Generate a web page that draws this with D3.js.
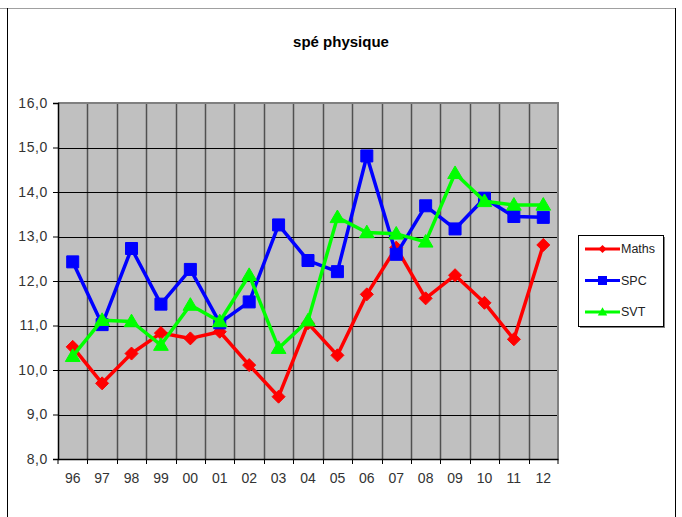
<!DOCTYPE html>
<html>
<head>
<meta charset="utf-8">
<script src="https://cdn.jsdelivr.net/npm/d3@7"></script>
<style>
  body { margin: 0; background: #fff; }
  text { font-family: "Liberation Sans", Arial, sans-serif; }
</style>
</head>
<body>
<div id="chart"></div>
<script>
var years = ["96","97","98","99","00","01","02","03","04","05","06","07","08","09","10","11","12"];
var maths = [10.52, 9.70, 10.37, 10.83, 10.71, 10.86, 10.11, 9.40, 11.05, 10.33, 11.70, 12.75, 11.61, 12.13, 11.51, 10.69, 12.81];
var spc   = [12.43, 11.02, 12.73, 11.48, 12.26, 11.06, 11.53, 13.26, 12.46, 12.21, 14.81, 12.60, 13.69, 13.17, 13.86, 13.45, 13.43];
var svt   = [10.31, 11.12, 11.09, 10.56, 11.46, 11.09, 12.13, 10.49, 11.11, 13.43, 13.09, 13.06, 12.88, 14.42, 13.79, 13.71, 13.71];
var yTicks = [8, 9, 10, 11, 12, 13, 14, 15, 16];

var series = [
  {name: "Maths", values: maths, color: "#ff0000", shape: "diamond"},
  {name: "SPC",   values: spc,   color: "#0000ff", shape: "square"},
  {name: "SVT",   values: svt,   color: "#00ff00", shape: "triangle"}
];

var width = 682, height = 517,
    plot = {left: 58, right: 558, top: 103, bottom: 459};

var svg = d3.select("#chart").append("svg")
    .attr("width", width)
    .attr("height", height);

// outer chart frame
svg.append("line").attr("x1", 0).attr("x2", 675).attr("y1", 8.5).attr("y2", 8.5)
    .attr("stroke", "#a0a0a0");
svg.append("line").attr("x1", 7.5).attr("x2", 7.5).attr("y1", 8).attr("y2", height)
    .attr("stroke", "#000");
svg.append("line").attr("x1", 675.5).attr("x2", 675.5).attr("y1", 8).attr("y2", height)
    .attr("stroke", "#000");

svg.append("text")
    .attr("x", 341)
    .attr("y", 47)
    .attr("text-anchor", "middle")
    .style("font-size", "15px")
    .style("font-weight", "bold")
    .text("spé physique");

var x = d3.scaleBand().domain(years).range([plot.left, plot.right]).padding(0);
var y = d3.scaleLinear().domain([8, 16]).range([plot.bottom, plot.top]);

// plot area
svg.append("rect")
    .attr("x", plot.left).attr("y", plot.top)
    .attr("width", plot.right - plot.left).attr("height", plot.bottom - plot.top)
    .attr("fill", "#c0c0c0");

// vertical grid at category boundaries
svg.append("g").selectAll("line")
    .data(years.slice(1))
    .enter().append("line")
      .attr("x1", function(d) { return Math.round(x(d)) + 0.5; })
      .attr("x2", function(d) { return Math.round(x(d)) + 0.5; })
      .attr("y1", plot.top)
      .attr("y2", plot.bottom)
      .attr("stroke", "#505050")
      .attr("stroke-width", 1.5);

// horizontal grid
svg.append("g").selectAll("line")
    .data(yTicks.slice(1, -1))
    .enter().append("line")
      .attr("x1", plot.left)
      .attr("x2", plot.right)
      .attr("y1", function(d) { return Math.round(y(d)) + 0.5; })
      .attr("y2", function(d) { return Math.round(y(d)) + 0.5; })
      .attr("stroke", "#000");

// top and right border of plot area
svg.append("path")
    .attr("d", "M" + plot.left + "," + (plot.top) + "H" + plot.right + "V" + plot.bottom)
    .attr("fill", "none")
    .attr("stroke", "#808080")
    .attr("stroke-width", 2);

// y axis
var yAxis = svg.append("g")
    .attr("transform", "translate(" + plot.left + ",0)")
    .call(d3.axisLeft(y).tickValues(yTicks).tickSize(5).tickPadding(5)
      .tickFormat(function(d) { return d3.format(".1f")(d).replace(".", ","); }));
yAxis.select(".domain").attr("stroke", "#000").attr("stroke-width", 1.5);
yAxis.selectAll("text")
    .style("font-size", "14px")
    .style("letter-spacing", "0.6px")
    .attr("fill", "#333");

// x axis
var xAxis = svg.append("g")
    .attr("transform", "translate(0," + plot.bottom + ")")
    .call(d3.axisBottom(x).tickSize(0).tickPadding(14));
xAxis.select(".domain").attr("stroke", "#000").attr("stroke-width", 1.5);
xAxis.selectAll("text")
    .style("font-size", "14px")
    .attr("fill", "#333");
xAxis.selectAll(".bt").data(years.slice(1).concat(["end"]))
    .enter().append("line")
      .attr("x1", function(d) { return d == "end" ? plot.right : Math.round(x(d)) + 0.5; })
      .attr("x2", function(d) { return d == "end" ? plot.right : Math.round(x(d)) + 0.5; })
      .attr("y1", 0)
      .attr("y2", 5)
      .attr("stroke", "#000");
xAxis.append("line").attr("x1", plot.left).attr("x2", plot.left).attr("y1", 0).attr("y2", 5)
    .attr("stroke", "#000");

function markerPath(shape, s) {
  if (shape == "diamond")
    return "M0," + (-s) + "L" + s + ",0L0," + s + "L" + (-s) + ",0Z";
  if (shape == "square")
    return "M" + (-s) + "," + (-s) + "H" + s + "V" + s + "H" + (-s) + "Z";
  return "M0," + (-s * 1.05) + "L" + (s * 1.05) + "," + (s * 0.75) + "H" + (-s * 1.05) + "Z";
}

var line = d3.line()
    .x(function(d, i) { return x(years[i]) + x.bandwidth() / 2; })
    .y(function(d) { return y(d); });

var sizes = {diamond: 6.5, square: 6, triangle: 7};

series.forEach(function(s) {
  svg.append("path")
      .datum(s.values)
      .attr("fill", "none")
      .attr("stroke", s.color)
      .attr("stroke-width", 3.5)
      .attr("stroke-linejoin", "round")
      .attr("d", line);

  svg.append("g").selectAll("path")
      .data(s.values)
      .enter().append("path")
        .attr("transform", function(d, i) {
          return "translate(" + (x(years[i]) + x.bandwidth() / 2) + "," + y(d) + ")";
        })
        .attr("d", markerPath(s.shape, sizes[s.shape]))
        .attr("fill", s.color)
        .attr("stroke", s.color)
        .attr("stroke-width", 1);
});

// legend
var legend = svg.append("g").attr("transform", "translate(578,235)");
legend.append("rect")
    .attr("x", 2).attr("y", 2).attr("width", 85).attr("height", 91)
    .attr("fill", "#808080");
legend.append("rect")
    .attr("x", 0.5).attr("y", 0.5).attr("width", 85).attr("height", 91)
    .attr("fill", "#fff")
    .attr("stroke", "#000");

var legendSizes = {diamond: 4, square: 4.5, triangle: 4.5};
series.forEach(function(s, i) {
  var g = legend.append("g").attr("transform", "translate(0," + (14 + i * 31.5) + ")");
  g.append("line")
      .attr("x1", 7).attr("x2", 42)
      .attr("stroke", s.color)
      .attr("stroke-width", 3);
  g.append("path")
      .attr("transform", "translate(24.5,0)")
      .attr("d", markerPath(s.shape, legendSizes[s.shape]))
      .attr("fill", s.color);
  g.append("text")
      .attr("x", 43)
      .attr("dy", "0.35em")
      .style("font-size", "12.5px")
      .attr("fill", "#222")
      .text(s.name);
});
</script>
</body>
</html>
